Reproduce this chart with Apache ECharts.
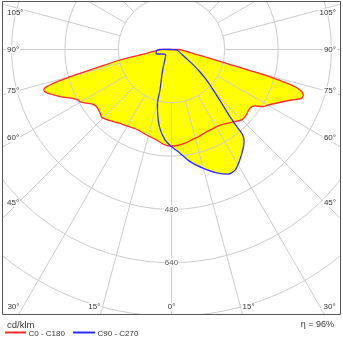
<!DOCTYPE html>
<html>
<head>
<meta charset="utf-8">
<script src="https://cdn.jsdelivr.net/npm/echarts/dist/echarts.min.js"></script>
<style>
html,body{margin:0;padding:0;background:#ffffff;}
#chart{width:343px;height:343px;}
</style>
</head>
<body>
<div id="chart"></div>
<script>
// ---- data (angle gamma in degrees, C180 / C270 side negative; intensity in cd/klm) ----
const redAngles = [-180, -91.4, -81.3, -79.4, -78.5, -76.3, -75.4, -74.9, -74.3, -73.6, -72.7, -72.1, -71.5, -69.9, -67.1, -63.4, -61.5, -60.2, -58.4, -55.7, -52.6, -48.3, -45.8, -40.8, -34.9, -30.4, -23.6, -16.2, -9.3, -5.0, -0.9, 4.1, 8.2, 12.6, 17.1, 21.9, 26.7, 31.5, 35.7, 41.3, 44.9, 47.6, 53.2, 55.9, 58.1, 60.2, 63.5, 67.2, 69.4, 71.0, 72.5, 73.5, 74.7, 75.0, 75.6, 76.1, 78.4, 83.7, 90, 180];
const redValues = [0, 25, 75, 127, 158, 231, 284, 320, 358, 385, 401, 402, 400, 388, 363, 329, 318, 316, 305, 290, 283, 287, 292, 282, 270, 266, 261, 267, 275, 285, 290, 288, 284, 278, 274, 269, 268, 269, 275, 288, 298, 299, 294, 302, 324, 335, 358, 391, 417, 418, 404, 376, 291, 244, 186, 160, 82, 41, 20, 0];

const blueAngles = [-180, -91, -85.4, -73.8, -55.3, -46.5, -25.5, -19.8, -15.9, -14.5, -11.4, -8.3, -4.1, 0.1, 4.7, 9.4, 15.0, 20.1, 24.5, 27.8, 31.1, 35.3, 38.2, 39.8, 40.3, 41.0, 43.0, 45.9, 49.2, 52.6, 56.6, 63.8, 84.5, 180];
const blueValues = [0, 35, 45, 48, 24, 24, 57, 87, 126, 168, 206, 240, 272, 292, 312, 341, 369, 394, 411, 409, 393, 370, 352, 334, 303, 267, 221, 175, 137, 101, 66, 37, 16, 0];

const seriesNames = ['C0 - C180', 'C90 - C270'];
const ringStep = 160;
const ringMin = 160;
const ringMax = 960;
const ringLabelValues = [480, 640];
const sideTickAngles = [105, 90, 75, 60, 45];
const bottomTickAngles = [-30, -15, 0, 15, 30];
const unitText = 'cd/klm';
const efficiencyText = 'η = 96%';

// ---- layout / style ----
const CX = 171.5, CY = 49.5, R_OUT = 320, R_IN = R_OUT * ringMin / ringMax;
const RED = '#ff2a2a', BLUE = '#2a2aff', FILL = '#ffff00', GRID = '#cdcdcd', TXT = '#333333';
const FONT = '"Liberation Sans", Arial, sans-serif';

const redData = redAngles.map((a, i) => [redValues[i], a]);
const blueData = blueAngles.map((a, i) => [blueValues[i], a]);

const angleBase = {
  type: 'value', min: -180, max: 180, interval: 15, startAngle: 90, clockwise: false,
  axisLine: {show: false}, axisTick: {show: false}, axisLabel: {show: false}
};
const hiddenRadius = {axisLine: {show: false}, axisTick: {show: false}, axisLabel: {show: false}};

const chart = echarts.init(document.getElementById('chart'), null, {renderer: 'canvas'});
const option = {
  animation: false,
  backgroundColor: '#ffffff',
  polar: [
    {center: [CX, CY], radius: [0, R_OUT]},
    {center: [CX, CY], radius: [R_IN, R_OUT]}
  ],
  angleAxis: [
    Object.assign({}, angleBase, {polarIndex: 0, splitLine: {show: false}}),
    Object.assign({}, angleBase, {polarIndex: 1, z: 3, splitLine: {show: true, lineStyle: {color: GRID, width: 1}}})
  ],
  radiusAxis: [
    Object.assign({}, hiddenRadius, {polarIndex: 0, type: 'value', min: 0, max: ringMax, splitLine: {show: false}}),
    Object.assign({}, hiddenRadius, {polarIndex: 1, type: 'value', min: ringMin, max: ringMax, interval: ringStep, z: 3,
      splitLine: {show: true, lineStyle: {color: [GRID, GRID, GRID, GRID, GRID, 'rgba(0,0,0,0)'], width: 1}}})
  ],
  series: [
    {name: 'fill-red', type: 'line', coordinateSystem: 'polar', polarIndex: 0, data: redData, showSymbol: false, smooth: 0.25,
      clip: false, silent: true, z: 1, lineStyle: {opacity: 0}, areaStyle: {color: FILL, opacity: 1}},
    {name: 'fill-blue', type: 'line', coordinateSystem: 'polar', polarIndex: 0, data: blueData, showSymbol: false, smooth: 0.25,
      clip: false, silent: true, z: 1, lineStyle: {opacity: 0}, areaStyle: {color: FILL, opacity: 1}},
    {name: seriesNames[0], type: 'line', coordinateSystem: 'polar', polarIndex: 0, data: redData, showSymbol: false, smooth: 0.25,
      clip: false, z: 5, itemStyle: {color: RED}, lineStyle: {color: RED, width: 1.3}},
    {name: seriesNames[1], type: 'line', coordinateSystem: 'polar', polarIndex: 0, data: blueData, showSymbol: false, smooth: 0.25,
      clip: false, z: 5, itemStyle: {color: BLUE}, lineStyle: {color: BLUE, width: 1.3}},
    {name: 'ring-labels', type: 'scatter', coordinateSystem: 'polar', polarIndex: 0, z: 6, silent: true,
      data: ringLabelValues.map(v => [v, 0]), symbolSize: 1, itemStyle: {color: 'rgba(0,0,0,0)'},
      label: {show: true, position: 'inside', formatter: p => String(p.value[0]), fontSize: 8, fontFamily: FONT,
        color: TXT, backgroundColor: '#ffffff', padding: [1, 1]}}
  ]
};
chart.setOption(option);

// ---- angle labels, frame, legend ----
const c0 = chart.convertToPixel({seriesIndex: 2}, [0, 0]);
function ray(theta) {
  const p = chart.convertToPixel({seriesIndex: 2}, [ringMax, theta]);
  return [p[0] - c0[0], p[1] - c0[1]];
}
const g = [];
const textStyle = (txt, x, y, align, size) => ({
  type: 'text', x: x, y: y, z: 12,
  style: {text: txt, fill: TXT, fontSize: size || 8, fontFamily: FONT, align: align, verticalAlign: 'middle',
    textAlign: align, textVerticalAlign: 'middle', backgroundColor: '#ffffff', padding: [0, 1]}
});
// masks outside the frame
g.push({type: 'rect', z: 10, shape: {x: 0, y: 315, width: 343, height: 28}, style: {fill: '#ffffff'}});
g.push({type: 'rect', z: 10, shape: {x: 0, y: 0, width: 2, height: 343}, style: {fill: '#ffffff'}});
g.push({type: 'rect', z: 10, shape: {x: 341, y: 0, width: 2, height: 343}, style: {fill: '#ffffff'}});
g.push({type: 'rect', z: 10, shape: {x: 0, y: 0, width: 343, height: 1}, style: {fill: '#ffffff'}});
g.push({type: 'rect', z: 11, shape: {x: 2.5, y: 1.5, width: 338, height: 313}, style: {fill: 'none', stroke: '#555555', lineWidth: 1}});

sideTickAngles.forEach(a => {
  [-1, 1].forEach(side => {
    const d = ray(side * a);
    const xCross = side < 0 ? 18 : 325;
    const t = (xCross - c0[0]) / d[0];
    let y = c0[1] + t * d[1];
    y = Math.max(y, 12.5);
    g.push(textStyle(a + '°', side < 0 ? 6 : 337, y, side < 0 ? 'left' : 'right'));
  });
});
bottomTickAngles.forEach(a => {
  const d = ray(a);
  const t = (311 - c0[1]) / d[1];
  const x = c0[0] + t * d[0];
  g.push(textStyle(Math.abs(a) + '°', x, 307, a < 0 ? 'right' : (a > 0 ? 'left' : 'center')));
});

// legend and notes
g.push(textStyle(unitText, 6, 325, 'left', 9.5));
g.push(textStyle(efficiencyText, 335, 325, 'right', 9));
g.push({type: 'line', z: 12, shape: {x1: 5, y1: 332.5, x2: 26, y2: 332.5}, style: {stroke: RED, lineWidth: 2}});
g.push(textStyle(seriesNames[0], 27.5, 333.5, 'left', 8));
g.push({type: 'line', z: 12, shape: {x1: 73, y1: 332.5, x2: 95, y2: 332.5}, style: {stroke: BLUE, lineWidth: 2}});
g.push(textStyle(seriesNames[1], 96.5, 333.5, 'left', 8));

chart.setOption({graphic: g});
</script>
</body>
</html>
